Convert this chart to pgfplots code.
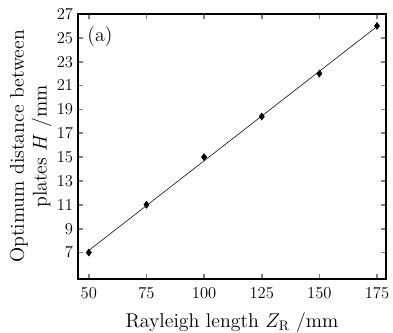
\documentclass[border=0pt]{standalone}
\usepackage{pgfplots}
\pgfplotsset{compat=1.18}
\begin{document}
\begin{tikzpicture}
\begin{axis}[
  scale only axis,
  width=7.84cm, height=6.74cm,
  xmin=45.3, xmax=178.9,
  ymin=4.8, ymax=27,
  xtick={50,75,100,125,150,175},
  ytick={7,9,11,13,15,17,19,21,23,25,27},
  tick align=inside,
  major tick length=3.5pt,
  tick style={line width=1.2pt},
  axis line style={line width=1.4pt},
  xlabel={Rayleigh length $Z_{\mathrm{R}}$ /mm},
  ylabel={Optimum distance between\\ plates $H$ /mm},
  ylabel style={align=center, at={(ticklabel cs:0.5)}, anchor=south, yshift=-3pt,
    font={\fontsize{14.4}{16.5}\selectfont}},
  xlabel style={at={(ticklabel cs:0.5)}, anchor=north, yshift=-3pt, font=\Large},
  tick label style={font=\large},
  xticklabel style={yshift=-3pt},
]
\addplot[black, thin, mark=none] coordinates {(50,7.18) (175,25.95)};
\addplot[only marks, mark=diamond*, mark size=2.5pt, black] coordinates {
(50,7) (75,11) (100,15) (125,18.4) (150,22) (175,26)};
\node[anchor=north west, font=\Large] at (rel axis cs:0.015,0.97) {(a)};
\end{axis}
\pgfresetboundingbox
\path (-1.985,-1.374) rectangle (8.018,7.096);
\end{tikzpicture}
\end{document}
